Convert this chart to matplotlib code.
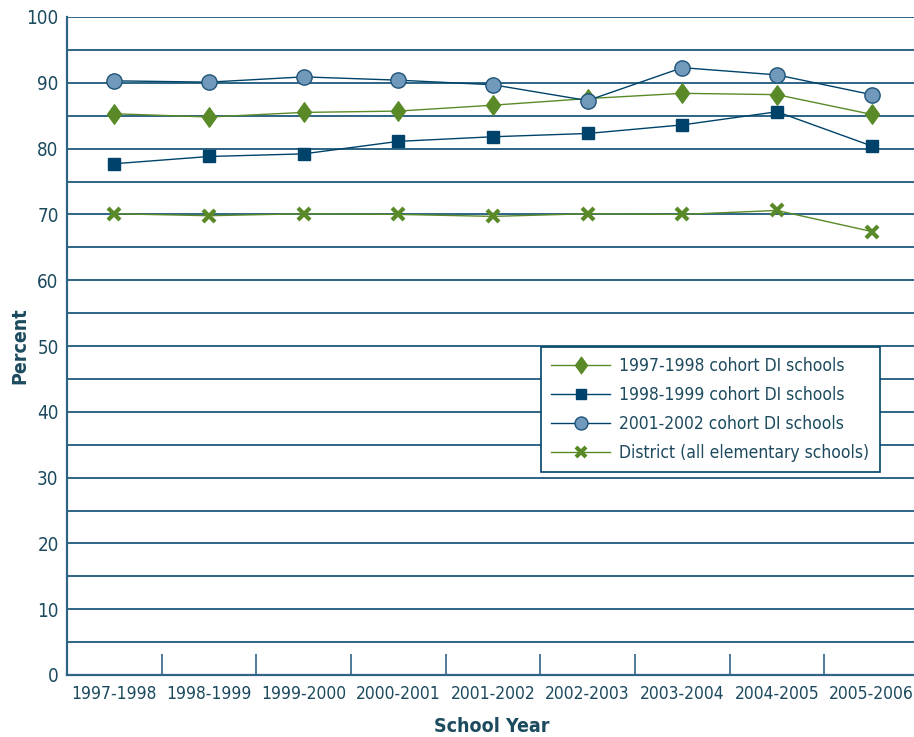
import matplotlib
matplotlib.use("Agg")
import matplotlib.pyplot as plt
from matplotlib.path import Path

years = ["1997-1998", "1998-1999", "1999-2000", "2000-2001", "2001-2002",
         "2002-2003", "2003-2004", "2004-2005", "2005-2006"]
cohort_1997 = [85.3, 84.8, 85.5, 85.7, 86.6, 87.6, 88.4, 88.2, 85.2]
cohort_1998 = [77.7, 78.8, 79.2, 81.1, 81.8, 82.3, 83.6, 85.6, 80.4]
cohort_2001 = [90.3, 90.1, 90.9, 90.4, 89.7, 87.3, 92.3, 91.2, 88.2]
district = [70.1, 69.8, 70.1, 70.0, 69.7, 70.1, 70.0, 70.6, 67.4]

TEXT = "#1c4a5e"
GRID = "#2f6485"
NAVY = "#00436a"
GREEN = "#5a8a28"
LIGHT = "#7099bc"

plt.rcParams["font.family"] = ["DejaVu Sans"]
plt.rcParams["font.stretch"] = "condensed"

diamond = Path([(0, 1), (0.72, 0), (0, -1), (-0.72, 0), (0, 1)],
               [Path.MOVETO, Path.LINETO, Path.LINETO, Path.LINETO, Path.CLOSEPOLY])

fig = plt.figure(figsize=(9.14, 7.37), dpi=100)
ax = fig.add_axes([67 / 914, 62 / 737, 852 / 914, 658 / 737])

x = list(range(len(years)))
for y in range(5, 101, 5):
    ax.axhline(y, color=GRID, lw=1.4, zorder=1)

ax.plot(x, cohort_1997, color=GREEN, lw=1.0, marker=diamond, ms=14,
        mfc=GREEN, mec=GREEN, label="1997-1998 cohort DI schools", zorder=3)
ax.plot(x, cohort_1998, color=NAVY, lw=1.0, marker="s", ms=9,
        mfc=NAVY, mec=NAVY, label="1998-1999 cohort DI schools", zorder=3)
ax.plot(x, cohort_2001, color=NAVY, lw=1.0, marker="o", ms=11,
        mfc=LIGHT, mec="#1f5478", mew=1.0, label="2001-2002 cohort DI schools", zorder=3)
ax.plot(x, district, color=GREEN, lw=1.0, marker="x", ms=9, mew=3,
        mec=GREEN, label="District (all elementary schools)", zorder=3)

ax.set_xlim(-0.5, 8.5)
ax.set_ylim(0, 100)
ax.set_yticks(range(0, 101, 10))
ax.tick_params(axis="y", length=0, labelsize=13.5, labelcolor=TEXT, pad=6)
ax.set_xticks(x)
ax.set_xticklabels(years)
ax.tick_params(axis="x", length=0, labelsize=12.5, labelcolor=TEXT, pad=7)
ax.set_xticks([i + 0.5 for i in range(8)], minor=True)
ax.tick_params(axis="x", which="minor", direction="in", length=15, width=1.2, color=GRID)

for s in ["top", "right"]:
    ax.spines[s].set_visible(False)
for s in ["left", "bottom"]:
    ax.spines[s].set_color(GRID)
    ax.spines[s].set_linewidth(1.6)

ax.set_xlabel("School Year", fontsize=14, fontweight="bold", color=TEXT)
ax.set_ylabel("Percent", fontsize=14, fontweight="bold", color=TEXT)
ax.xaxis.set_label_coords(425 / 852, -42 / 658)
ax.yaxis.set_label_coords(-38 / 852, 0.5)

leg = ax.legend(loc="upper left", bbox_to_anchor=(474 / 852, 328 / 658),
                fancybox=False, framealpha=1, edgecolor=NAVY, fontsize=12.5,
                labelcolor=TEXT, handlelength=3.4, handletextpad=0.5,
                borderpad=0.6, labelspacing=0.62, borderaxespad=0)
leg.get_frame().set_linewidth(1.2)
leg.set_zorder(5)
for line in leg.get_lines():
    line.set_markersize(line.get_markersize() * 0.85)

fig.savefig("out.png", dpi=100)
